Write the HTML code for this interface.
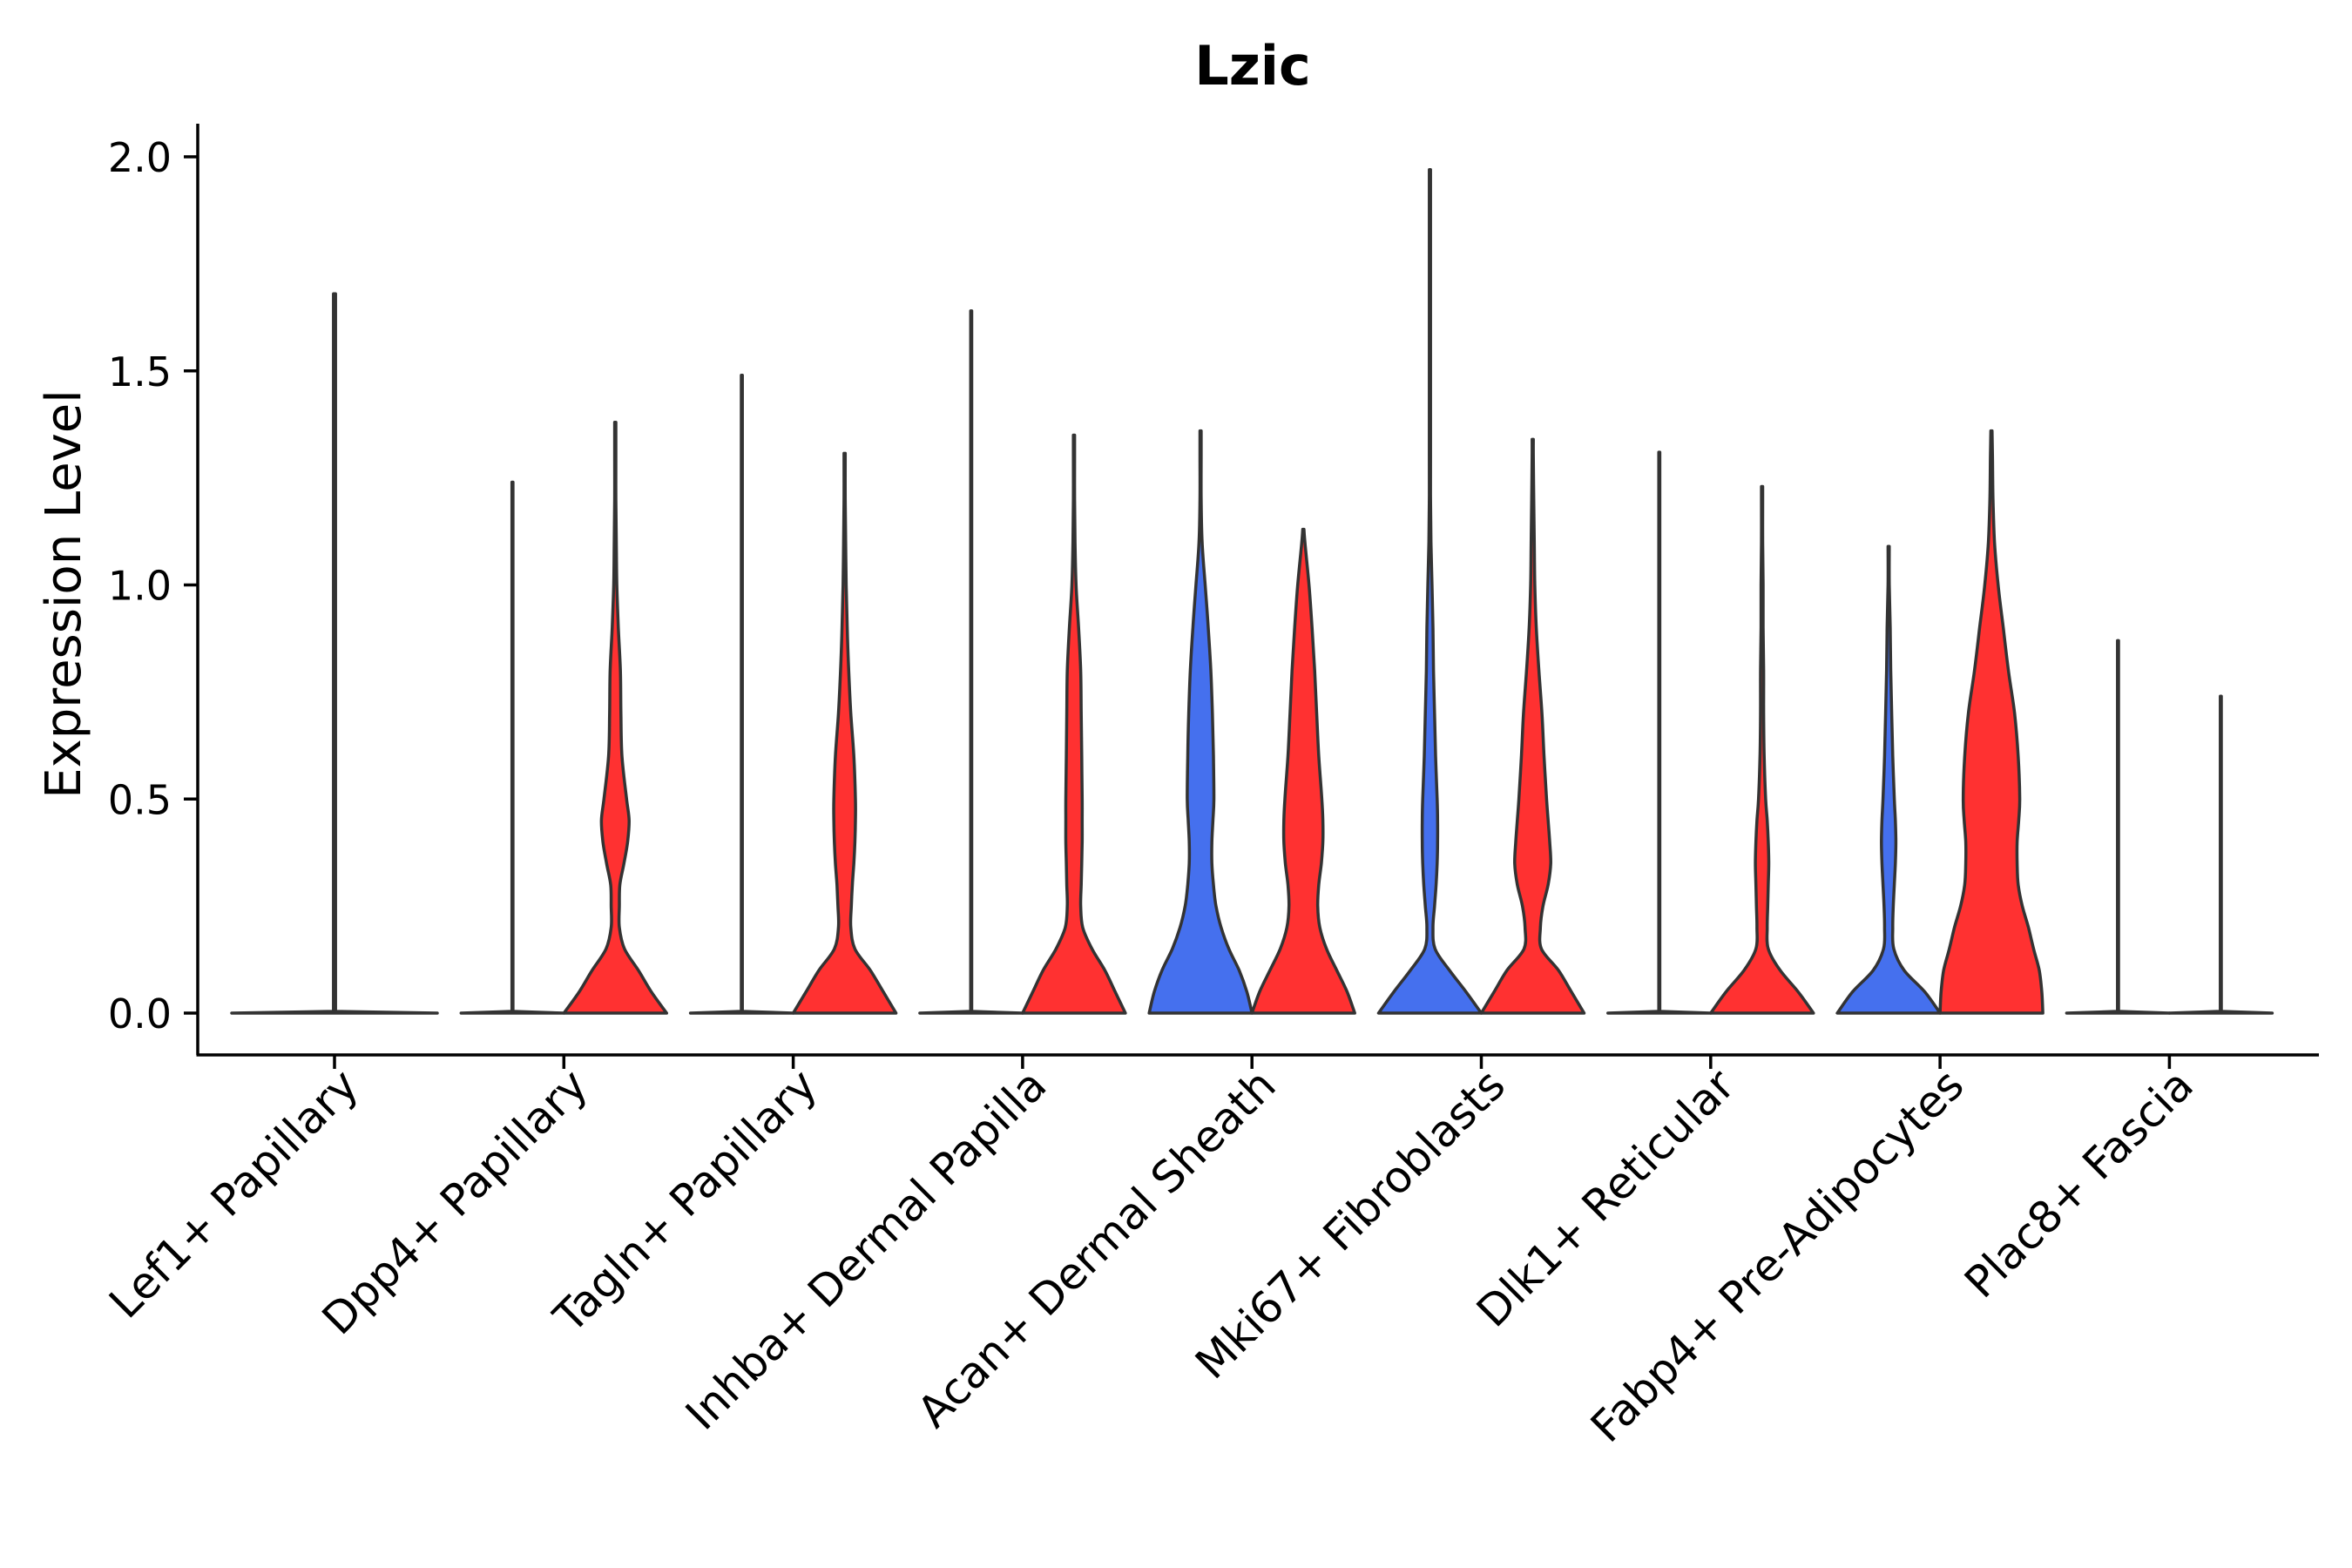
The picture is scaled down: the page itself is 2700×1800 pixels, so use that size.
<!DOCTYPE html>
<html><head><meta charset="utf-8"><style>
html,body{margin:0;padding:0;background:#fff;}
svg{display:block;font-family:"DejaVu Sans","Liberation Sans",sans-serif;}
</style></head><body>
<svg id="chart" width="2700" height="1800" viewBox="0 0 2700 1800" xmlns="http://www.w3.org/2000/svg">
<text x="1438" y="97" font-size="62" font-weight="bold" text-anchor="middle">Lzic</text>
<text transform="translate(92,682) rotate(-90)" font-size="56" text-anchor="middle">Expression Level</text>
<g id="plot"></g>
</svg>
<script>
const categories = ["Lef1+ Papillary","Dpp4+ Papillary","Tagln+ Papillary","Inhba+ Dermal Papilla","Acan+ Dermal Sheath","Mki67+ Fibroblasts","Dlk1+ Reticular","Fabp4+ Pre-Adipocytes","Plac8+ Fascia"];
const yTicks = [0, 0.5, 1.0, 1.5, 2.0];
const yTickLabels = ["0.0","0.5","1.0","1.5","2.0"];
const levels = [0,0.05,0.1,0.15,0.2,0.25,0.3,0.35,0.4,0.45,0.5,0.6,0.7,0.8,0.9,1.0,1.1,1.2,1.3];
const violinCategory = [0,1,1,2,2,3,3,4,4,5,5,6,6,7,7,8,8];
const violinSide =     [0,-1,1,-1,1,-1,1,-1,1,-1,1,-1,1,-1,1,-1,1];
const violinGroup =    ["none","blue","red","blue","red","blue","red","blue","red","blue","red","blue","red","blue","red","blue","red"];
const violinMax = [1.68,1.24,1.38,1.49,1.30,1.64,1.35,1.36,1.13,1.97,1.34,1.31,1.23,1.09,1.36,0.87,0.74];
const violinDensity = [
 null,
 null,
 [1,0.7,0.45,0.18,0.08,0.08,0.09,0.17,0.24,0.27,0.22,0.13,0.11,0.1,0.06,0.03,0.02,0.01,0.01],
 null,
 [1,0.75,0.5,0.2,0.12,0.13,0.15,0.18,0.2,0.21,0.21,0.18,0.12,0.08,0.05,0.03,0.02,0.01,0.01],
 null,
 [1,0.8,0.6,0.35,0.17,0.13,0.14,0.15,0.16,0.16,0.16,0.15,0.14,0.13,0.09,0.04,0.02,0.01,0.01],
 [1,0.9,0.75,0.55,0.4,0.3,0.25,0.22,0.22,0.24,0.26,0.25,0.23,0.2,0.15,0.09,0.03,0.01,0.01],
 [1,0.85,0.65,0.45,0.32,0.28,0.3,0.35,0.38,0.38,0.36,0.3,0.26,0.22,0.17,0.11,0.03,0,0],
 [1,0.7,0.38,0.1,0.06,0.09,0.12,0.14,0.15,0.15,0.14,0.11,0.09,0.07,0.06,0.04,0.02,0.01,0.01],
 [1,0.75,0.5,0.17,0.15,0.2,0.3,0.35,0.33,0.3,0.27,0.22,0.18,0.12,0.07,0.04,0.03,0.02,0.01],
 null,
 [1,0.7,0.35,0.12,0.1,0.11,0.12,0.13,0.12,0.1,0.07,0.04,0.03,0.03,0.02,0.02,0.01,0.01,0],
 [1,0.7,0.3,0.1,0.08,0.09,0.11,0.13,0.14,0.13,0.11,0.08,0.06,0.04,0.03,0.01,0.01,0,0],
 [1,0.98,0.93,0.82,0.72,0.6,0.52,0.5,0.5,0.53,0.55,0.52,0.45,0.33,0.23,0.13,0.06,0.03,0.02],
 null,
 null
];

const NS="http://www.w3.org/2000/svg";
const plot=document.getElementById('plot');
const X0=227, X1=2662, Y0=1211, YT=142;
const tick0=384, tickStep=263.3, halfW=59, sideOff=59;
function xScale(i){return tick0+i*tickStep;}
function yScale(v){return 1163 - v*491.5;}
const fills={blue:"#4570EE",red:"#FF3131",none:"#ffffff"};
function mk(tag,attrs){const e=document.createElementNS(NS,tag);for(const k in attrs)e.setAttribute(k,attrs[k]);plot.appendChild(e);return e;}
function smooth(pts){
  let d="M"+pts[0][0].toFixed(1)+","+pts[0][1].toFixed(1);
  for(let i=0;i<pts.length-1;i++){
    const p0=pts[Math.max(i-1,0)],p1=pts[i],p2=pts[i+1],p3=pts[Math.min(i+2,pts.length-1)];
    const c1=[p1[0]+(p2[0]-p0[0])/6,p1[1]+(p2[1]-p0[1])/6];
    const c2=[p2[0]-(p3[0]-p1[0])/6,p2[1]-(p3[1]-p1[1])/6];
    d+=" C"+c1[0].toFixed(1)+","+c1[1].toFixed(1)+" "+c2[0].toFixed(1)+","+c2[1].toFixed(1)+" "+p2[0].toFixed(1)+","+p2[1].toFixed(1);
  }
  return d;
}

for(let v=0;v<violinMax.length;v++){
  const cx=xScale(violinCategory[v])+violinSide[v]*sideOff;
  const w=halfW*(violinSide[v]===0?2:1);
  const dens=violinDensity[v];
  const mx=violinMax[v];
  let pts=[];
  if(dens===null){
    pts=[[0,1],[0.004,0.01],[mx,0.01]];
  } else {
    for(let k=0;k<levels.length;k++){
      if(levels[k]>mx)break;
      pts.push([levels[k],Math.max(dens[k],0.012)]);
    }
    pts.push([mx,0.012]);
  }
  const right=pts.map(p=>[cx+p[1]*w,yScale(p[0])]);
  const left=pts.slice().reverse().map(p=>[cx-p[1]*w,yScale(p[0])]);
  let d;
  if(dens===null){
    d="M"+right.concat(left).map(p=>p[0].toFixed(1)+","+p[1].toFixed(1)).join(" L")+" Z";
  } else {
    const lp=smooth(left);
    d=smooth(right)+" L"+lp.slice(1)+" Z";
  }
  const path=mk('path',{d:d,fill:fills[violinGroup[v]],stroke:"#333333","stroke-width":3.5,"stroke-linejoin":"round"});
  
  
}

const ya=mk('line',{x1:X0,y1:YT,x2:X0,y2:Y0,stroke:"#000","stroke-width":3.5});


const xa=mk('line',{x1:X0-1.5,y1:Y0,x2:X1,y2:Y0,stroke:"#000","stroke-width":3.5});



for(let i=0;i<yTicks.length;i++){
  const y=yScale(yTicks[i]);
  const t=mk('line',{x1:X0-16,y1:y,x2:X0,y2:y,stroke:"#000","stroke-width":3.5});
  
  
  const lb=mk('text',{x:X0-30,y:y+17,"font-size":46,"text-anchor":"end",fill:"#000"});
  lb.textContent=yTickLabels[i];
  
  
}
for(let i=0;i<categories.length;i++){
  const x=xScale(i);
  const t=mk('line',{x1:x,y1:Y0,x2:x,y2:Y0+16,stroke:"#000","stroke-width":3.5});
  
  
  const lb=mk('text',{transform:"translate("+(x+30)+","+(Y0+38)+") rotate(-45)","font-size":50,"text-anchor":"end",fill:"#000"});
  lb.textContent=categories[i];
  
  
}
</script>
</body></html>
